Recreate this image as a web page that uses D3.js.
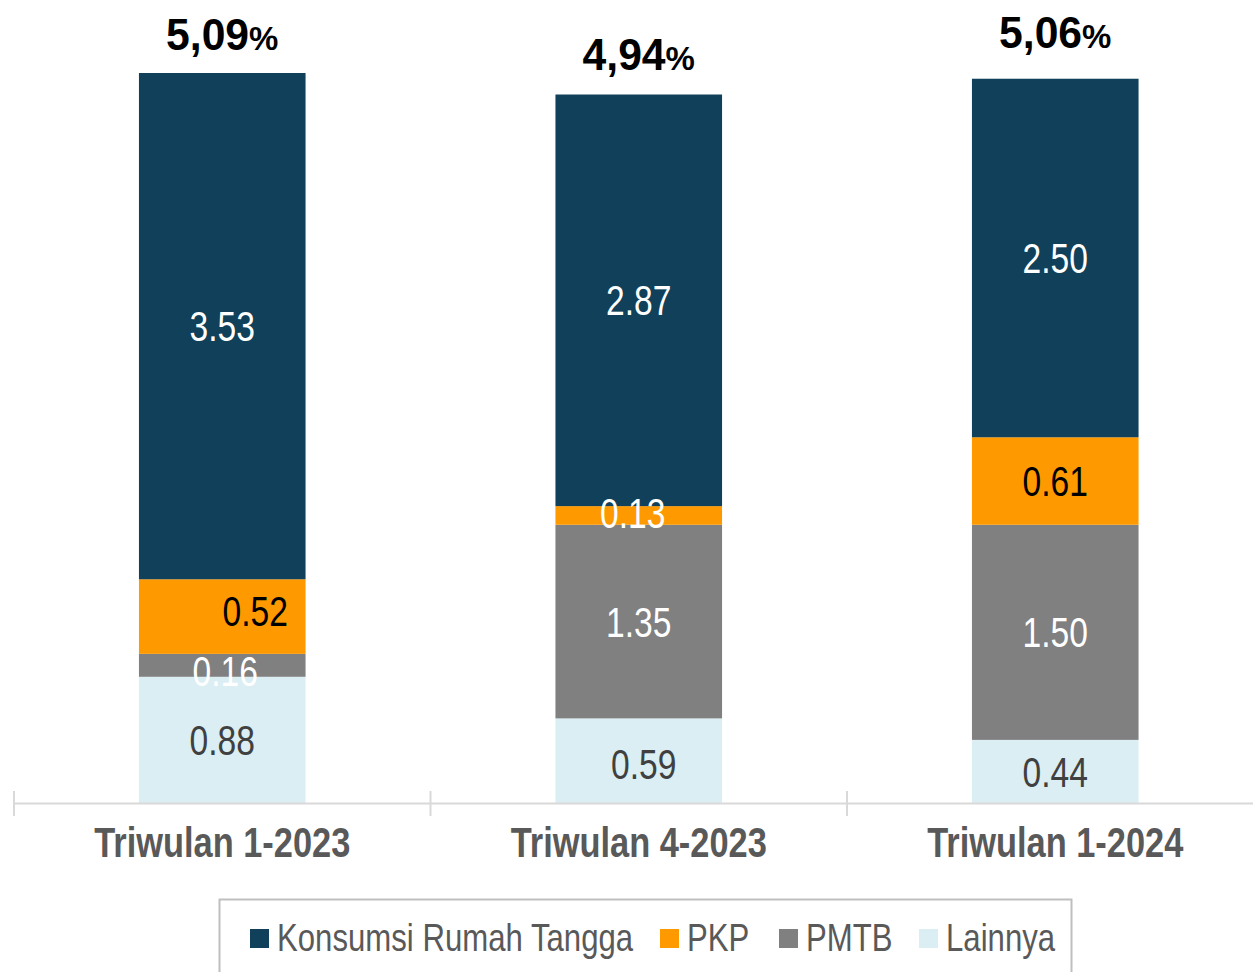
<!DOCTYPE html>
<html>
<head>
<meta charset="utf-8">
<script src="https://cdn.jsdelivr.net/npm/d3@7"></script>
<style>
  body { margin: 0; background: #fff; }
  svg { display: block; font-family: "Liberation Sans", Arial, sans-serif; }
</style>
</head>
<body>
<script>
// quarters on the x axis
const periods = ["Triwulan 1-2023", "Triwulan 4-2023", "Triwulan 1-2024"];
// total growth shown above each bar
const totals = ["5,09", "4,94", "5,06"];
// contributions per component (bottom to top)
const lainnya = [0.88, 0.59, 0.44];
const pmtb = [0.16, 1.35, 1.50];
const pkp = [0.52, 0.13, 0.61];
const konsumsi = [3.53, 2.87, 2.50];

const seriesNames = ["Lainnya", "PMTB", "PKP", "Konsumsi Rumah Tangga"];
const legendOrder = ["Konsumsi Rumah Tangga", "PKP", "PMTB", "Lainnya"];

const width = 1253, height = 972;
const narrow = 0.8; // squeeze Liberation Sans to look like Arial Narrow
const colors = {
  "Konsumsi Rumah Tangga": "#10405a",
  "PKP": "#ff9900",
  "PMTB": "#808080",
  "Lainnya": "#daeef3"
};
const labelColors = {
  "Konsumsi Rumah Tangga": "#ffffff",
  "PKP": "#000000",
  "PMTB": "#ffffff",
  "Lainnya": "#404040"
};

// build rows for the stack
const rows = periods.map((p, i) => ({
  period: p,
  "Lainnya": lainnya[i],
  "PMTB": pmtb[i],
  "PKP": pkp[i],
  "Konsumsi Rumah Tangga": konsumsi[i]
}));
const stacked = d3.stack().keys(seriesNames)(rows);

const x = d3.scaleBand()
  .domain(periods)
  .range([14, 14 + 416.5 * 3])
  .paddingInner(0.6)
  .paddingOuter(0.3);

const y = d3.scaleLinear()
  .domain([0, 5.09])
  .range([803, 73]);

const svg = d3.select("body").append("svg")
  .attr("width", width)
  .attr("height", height);

// place squeezed text at (fx, fy)
function placeNarrow(sel, fx, fy, k = narrow) {
  sel.attr("transform", (d, i) => `translate(${fx(d, i)},${fy(d, i)}) scale(${k},1)`);
}

// bars
const layer = svg.append("g")
  .selectAll("g")
  .data(stacked)
  .join("g")
  .attr("fill", d => colors[d.key]);

layer.selectAll("rect")
  .data(d => d.map(s => Object.assign(s, { key: d.key })))
  .join("rect")
  .attr("x", d => x(d.data.period))
  .attr("width", x.bandwidth())
  .attr("y", d => y(d[1]))
  .attr("height", d => y(d[0]) - y(d[1]));

// value labels inside segments
// manual nudges like in the original slide
const nudge = {
  "PKP|Triwulan 1-2023": [33, -6],
  "PMTB|Triwulan 1-2023": [3, 6],
  "PKP|Triwulan 4-2023": [-6, -3],
  "Lainnya|Triwulan 4-2023": [5, 3]
};
const whiteOverride = { "PKP|Triwulan 4-2023": true };
const vlabels = svg.append("g")
  .selectAll("g")
  .data(stacked)
  .join("g")
  .selectAll("text")
  .data(d => d)
  .join("text")
  .attr("dy", "0.36em")
  .attr("text-anchor", "middle")
  .attr("fill", d => whiteOverride[d.key + "|" + d.data.period] ? "#ffffff" : labelColors[d.key])
  .style("font-size", "42px")
  .text(d => (d[1] - d[0]).toFixed(2));
placeNarrow(vlabels,
  d => x(d.data.period) + x.bandwidth() / 2 + (nudge[d.key + "|" + d.data.period] || [0, 0])[0],
  d => (y(d[0]) + y(d[1])) / 2 + (nudge[d.key + "|" + d.data.period] || [0, 0])[1]);

// totals above bars (gap above each bar top, as in the slide)
const totalGap = [23, 25, 31];
const totalText = svg.append("g")
  .selectAll("text")
  .data(periods)
  .join("text")
  .attr("text-anchor", "middle")
  .attr("fill", "#000")
  .style("font-weight", "bold");
totalText.append("tspan").style("font-size", "44px").text((d, i) => totals[i]);
totalText.append("tspan").style("font-size", "34px").text("%");
placeNarrow(totalText,
  d => x(d) + x.bandwidth() / 2,
  (d, i) => y(d3.sum(stacked, s => s[i][1] - s[i][0])) - totalGap[i],
  0.97);

// x axis line with category separators
const axis = svg.append("g");
axis.append("line")
  .attr("x1", 14).attr("x2", width)
  .attr("y1", 803.5).attr("y2", 803.5)
  .attr("stroke", "#d9d9d9").attr("stroke-width", 2);
axis.selectAll("line.tick")
  .data(periods)
  .join("line")
  .attr("class", "tick")
  .attr("x1", d => x(d) - x.step() * 0.3)
  .attr("x2", d => x(d) - x.step() * 0.3)
  .attr("y1", 791).attr("y2", 816)
  .attr("stroke", "#d9d9d9").attr("stroke-width", 2);
const catLabels = axis.selectAll("text")
  .data(periods)
  .join("text")
  .attr("text-anchor", "middle")
  .attr("fill", "#595959")
  .style("font-weight", "bold")
  .style("font-size", "43px")
  .text(d => d);
placeNarrow(catLabels, d => x(d) + x.bandwidth() / 2, () => 857);

// legend
const legend = svg.append("g");
legend.append("rect")
  .attr("x", 219.5).attr("y", 899.5)
  .attr("width", 852).attr("height", 90)
  .attr("fill", "none")
  .attr("stroke", "#bfbfbf").attr("stroke-width", 2);

const legendX = [250, 660, 779, 919];
const items = legend.selectAll("g")
  .data(legendOrder)
  .join("g")
  .attr("transform", (d, i) => `translate(${legendX[i]},929)`);
items.append("rect")
  .attr("width", 19).attr("height", 19)
  .attr("fill", d => colors[d]);
const legText = items.append("text")
  .attr("fill", "#595959")
  .style("font-size", "38px")
  .text(d => d);
placeNarrow(legText, () => 27, () => 22, 0.82);
</script>
</body>
</html>
